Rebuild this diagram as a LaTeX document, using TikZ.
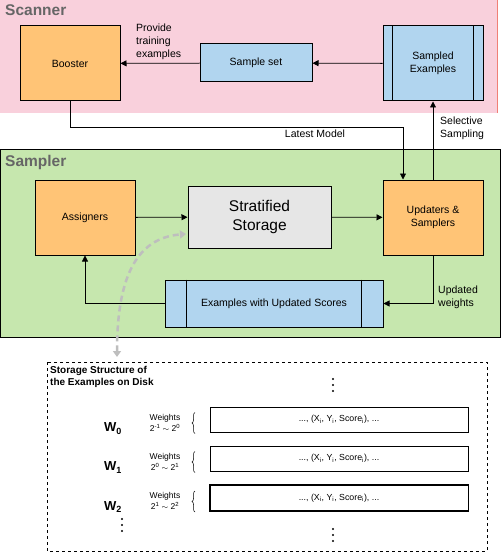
\documentclass[tikz,border=0pt]{standalone}
\usepackage{amsmath}
\usepackage{fontspec}
\setmainfont{Liberation Sans}
\usetikzlibrary{arrows.meta,decorations.pathreplacing}

\definecolor{scanpink}{RGB}{249,208,220}
\definecolor{scanred}{RGB}{240,128,118}
\definecolor{sampgreen}{RGB}{198,231,174}
\definecolor{boxorange}{RGB}{255,196,118}
\definecolor{boxblue}{RGB}{177,213,239}
\definecolor{boxgray}{RGB}{230,230,230}
\definecolor{titlegray}{RGB}{102,102,102}
\definecolor{curvegray}{RGB}{190,190,190}

\tikzset{
  arr/.style={-{Triangle[length=6pt,width=6pt]}, line width=0.8pt},
  orangebox/.style={draw, line width=1pt, fill=boxorange, minimum width=100pt, minimum height=75pt, inner sep=0pt, font=\fontsize{10.5}{13}\selectfont, align=center},
  bluebox/.style={draw, line width=1pt, fill=boxblue, inner sep=0pt, font=\fontsize{10.5}{13}\selectfont, align=center},
  rowbox/.style={draw, line width=0.8pt, minimum width=258pt, minimum height=25pt, inner sep=0pt, font=\fontsize{8.8}{10}\selectfont},
  lbl/.style={font=\fontsize{10.5}{13}\selectfont, align=left, inner sep=0pt},
  wlbl/.style={font=\fontsize{8.5}{11}\selectfont, align=center, inner sep=0pt}
}

\begin{document}
\begin{tikzpicture}[x=1pt, y=-1pt]
  \useasboundingbox (0,0) rectangle (502,556);

  % Scanner and Sampler areas
  \fill[scanpink] (0,0) rectangle (497,113);
  \draw[scanred, line width=1.5pt] (497.5,0) -- (497.5,113);
  \node[anchor=north west, inner sep=0pt, text=titlegray, font=\fontsize{15.5}{18}\selectfont\bfseries] (scantitle) at (5,4) {Scanner};
  \draw[fill=sampgreen, line width=1pt] (0.5,150) rectangle (500,337);
  \node[anchor=north west, inner sep=0pt, text=titlegray, font=\fontsize{15.5}{18}\selectfont\bfseries] (samptitle) at (5,155) {Sampler};

  % Scanner boxes
  \node[orangebox] (booster) at (70,63.5) {Booster};
  \node[bluebox, minimum width=112pt, minimum height=38pt] (sampleset) at (256,63) {Sample set};
  \node[bluebox, minimum width=100pt, minimum height=75pt] (sampled) at (433,63.5) {Sampled\\Examples};
  \draw[line width=0.8pt] ([xshift=10pt]sampled.north west) -- ([xshift=10pt]sampled.south west);
  \draw[line width=0.8pt] ([xshift=-10pt]sampled.north east) -- ([xshift=-10pt]sampled.south east);

  % Sampler boxes
  \node[orangebox] (assigners) at (85,217.5) {Assigners};
  \node[draw, line width=1pt, fill=boxgray, minimum width=143pt, minimum height=62pt, inner sep=0pt, align=center, font=\fontsize{15.5}{19}\selectfont] (storage) at (259.5,217) {Stratified\\Storage};
  \node[orangebox] (updaters) at (433,217.5) {Updaters \&\\Samplers};
  \node[bluebox, minimum width=218pt, minimum height=47pt] (updated) at (274,303.5) {Examples with Updated Scores};
  \draw[line width=0.8pt] ([xshift=22pt]updated.north west) -- ([xshift=22pt]updated.south west);
  \draw[line width=0.8pt] ([xshift=-22pt]updated.north east) -- ([xshift=-22pt]updated.south east);

  % Connectors
  \draw[arr] (sampled) -- (sampleset);
  \draw[arr] (sampleset) -- (booster);
  \node[lbl, anchor=north west] (provide) at (136,24) {Provide\\training\\examples};
  \draw[arr] (booster.south) |- (403,127) -- (updaters.north -| 403,0);
  \node[lbl] (latest) at (315,134) {Latest Model};
  \draw[arr] (updaters.north) -- (sampled.south);
  \node[lbl, anchor=north west] (selective) at (440,117) {Selective\\Sampling};
  \draw[arr] (assigners) -- (storage);
  \draw[arr] (storage) -- (updaters);
  \draw[arr] (updaters.south) |- (updated.east);
  \node[lbl, anchor=north west] (weightslbl) at (438,286) {Updated\\weights};
  \draw[arr] (updated.west) -| (assigners.south);

  % Link to disk structure
  \coordinate (curvetop) at (186,234);
  \coordinate (curvebot) at (117,357);
  \draw[curvegray, line width=2.5pt, dash pattern=on 6pt off 4pt, {Triangle[length=6pt,width=8pt]}-{Triangle[length=6pt,width=8pt]}]
    (curvebot) .. controls (117,280) and (135,238) .. (curvetop);

  % Storage structure on disk
  \draw[dashed, line width=0.8pt] (47,362) rectangle (487,551);
  \node[anchor=north west, inner sep=0pt, align=left, font=\fontsize{10}{12.5}\selectfont\bfseries] (disktitle) at (50,366) {Storage Structure of\\the Examples on Disk};
  \foreach \dx/\dy in {333/379, 333/529, 122/519}
    \foreach \k in {0,6,12}
      \fill (\dx,\dy+\k) circle[radius=1.1pt];
  \foreach \i/\yy/\lo/\hi in {0/419.5/{-1}/0, 1/458.5/0/1, 2/498/1/2} {
    \node[rowbox] (row\i) at (339,\yy) {..., (X\textsubscript{i}, Y\textsubscript{i}, Score\textsubscript{i}), ...};
    \node[font=\fontsize{13}{13}\selectfont\bfseries, inner sep=0pt] (w\i) at (113,\yy+9) {W\textsubscript{\fontsize{9}{9}\selectfont\i}};
    \node[wlbl] (wt\i) at (165,\yy+3) {Weights\\2\textsuperscript{\lo} $\sim$ 2\textsuperscript{\hi}};
    \draw[line width=0.5pt, decorate, decoration={brace, amplitude=3pt, mirror}] (195,\yy-7) -- (195,\yy+14);
  }
  \draw[line width=1.5pt] (row2.north west) rectangle (row2.south east);
\end{tikzpicture}
\end{document}
